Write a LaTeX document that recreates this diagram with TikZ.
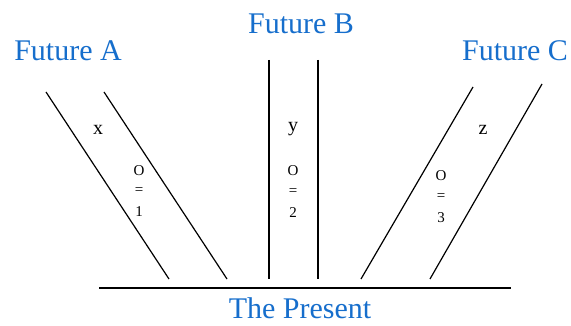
\documentclass[tikz,border=0pt]{standalone}
\usepackage{fontspec}
\setmainfont{Liberation Serif}
\definecolor{fblue}{RGB}{22,110,204}
\begin{document}
\begin{tikzpicture}[x=1pt,y=-1pt,
  title/.style={text=fblue,font=\fontsize{30}{32}\selectfont,inner sep=0pt,anchor=base},
  lbl/.style={font=\fontsize{20}{22}\selectfont,inner sep=0pt,anchor=base},
  sml/.style={font=\fontsize{15}{17}\selectfont,inner sep=0pt,anchor=center},
  path/.style={line width=1.2pt,black}]
\useasboundingbox (0,0) rectangle (571,326);
% titles
\node[title] (fa) at (68,61) {Future A};
\node[title] (fb) at (301,34) {Future B};
\node[title] (fc) at (515,61) {Future C};
\node[title] (tp) at (300,318) {The Present};
% line ends
\coordinate (a1t) at (46,92);  \coordinate (a1b) at (169,279);
\coordinate (a2t) at (104,92); \coordinate (a2b) at (227,279);
\coordinate (b1t) at (269,60); \coordinate (b1b) at (269,279);
\coordinate (b2t) at (318,60); \coordinate (b2b) at (318,279);
\coordinate (c1t) at (473,87); \coordinate (c1b) at (361,279);
\coordinate (c2t) at (542,84); \coordinate (c2b) at (430,279);
\coordinate (pl) at (99,288);  \coordinate (pr) at (511,288);
\draw[path] (a1t) -- (a1b);
\draw[path] (a2t) -- (a2b);
\draw[path] (b1t) -- (b1b);
\draw[path] (b2t) -- (b2b);
\draw[path] (c1t) -- (c1b);
\draw[path] (c2t) -- (c2b);
\draw[path] (pl) -- (pr);
% labels
\node[lbl] (x) at (98,135) {x};
\node[lbl] (y) at (293,132) {y};
\node[lbl] (z) at (483,135) {z};
\node[sml] (o1) at (139,171) {O};
\node[sml] (e1) at (139,191) {=};
\node[sml] (n1) at (139,212) {1};
\node[sml] (o2) at (293,171) {O};
\node[sml] (e2) at (293,192) {=};
\node[sml] (n2) at (293,213) {2};
\node[sml] (o3) at (441,176) {O};
\node[sml] (e3) at (441,197) {=};
\node[sml] (n3) at (441,218) {3};
\end{tikzpicture}
\end{document}
